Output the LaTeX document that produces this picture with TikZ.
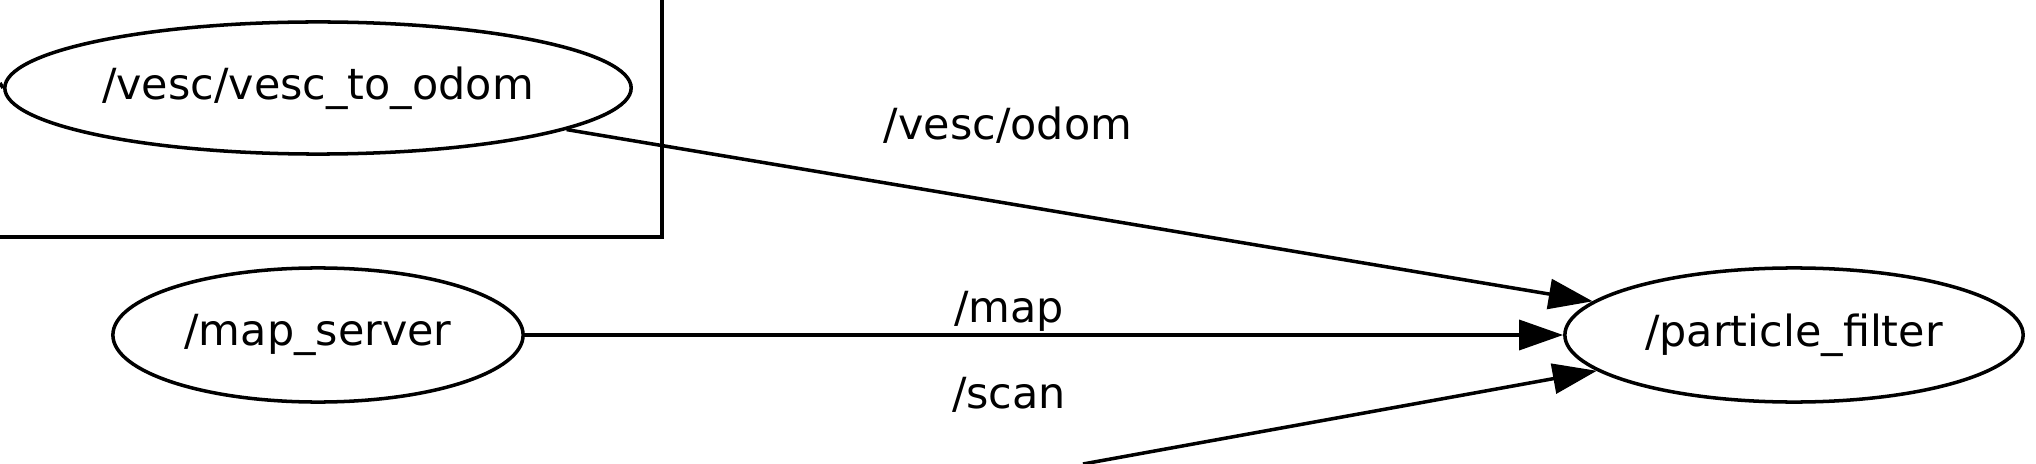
\documentclass[tikz,border=0pt]{standalone}
\usepackage{fontspec}
\setmainfont{DejaVu Sans}
\usepackage{tikz}
\usetikzlibrary{shapes.geometric}
\usetikzlibrary{arrows.meta}
\tikzstyle{rosnode}=[draw, ellipse, line width=1pt, inner sep=0pt, minimum height=1.34cm, font=\fontsize{12.2}{14}\selectfont]
\tikzstyle{topic}=[anchor=base, inner sep=0pt, font=\fontsize{12.2}{14}\selectfont]
\tikzstyle{pub}=[line width=1pt, -{Triangle[length=4.4mm,width=3mm]}]

\begin{document}
\begin{tikzpicture}[x=0.01cm,y=-0.01cm]
\useasboundingbox (0,0) rectangle (2036,464);
% cluster box, only its lower right corner is in view
\draw[line width=1pt] (662,0) -- (662,237) -- (0,237);
\node[rosnode, minimum width=6.26cm, minimum height=1.32cm] (vescodom) at (318,88) {/vesc/vesc\_to\_odom};
\node[rosnode, minimum width=4.10cm] (mapserver) at (318,335) {/map\_server};
\node[rosnode, minimum width=4.58cm] (pf) at (1794,335) {/particle\_filter};
\coordinate (stub) at (0,83);
\coordinate (laser) at (1083,464);
\draw[line width=1pt] (stub) -- (vescodom.west);
\draw[pub] (vescodom) -- (pf);
\draw[pub] (mapserver) -- (pf);
\draw[pub] (laser) -- (pf);
\node[topic] (odomlbl) at (1008,140) {/vesc/odom};
\node[topic] (maplbl) at (1009,322) {/map};
\node[topic] (scanlbl) at (1009,408) {/scan};
\end{tikzpicture}
\end{document}
